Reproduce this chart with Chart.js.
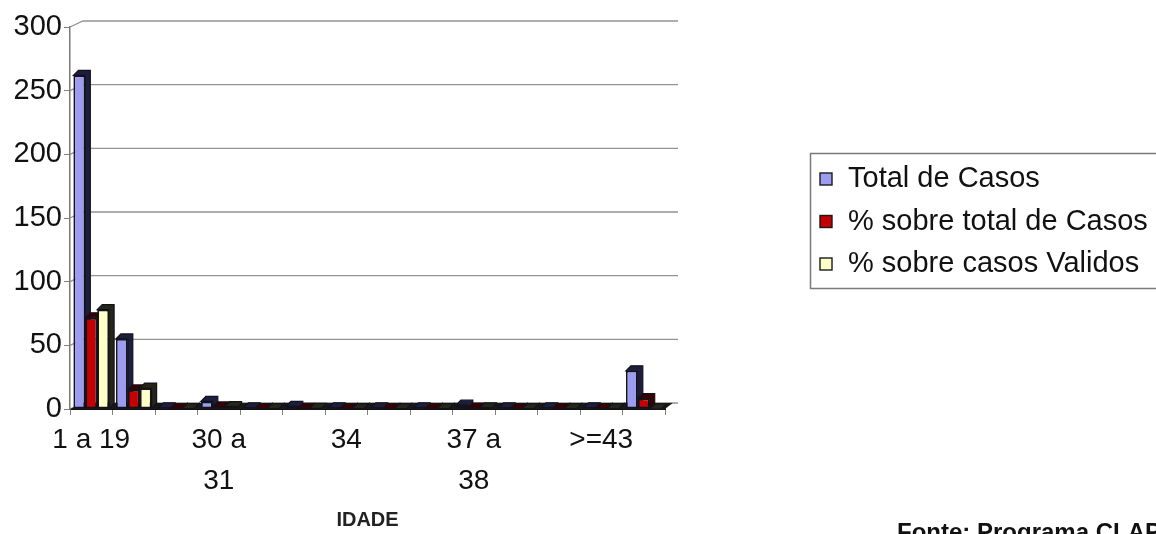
<!DOCTYPE html>
<html>
<head>
<meta charset="utf-8">
<title>IDADE</title>
<script src="https://cdn.jsdelivr.net/npm/chart.js@4.4.1/dist/chart.umd.min.js"></script>
<style>
  html, body { margin: 0; padding: 0; background: #ffffff; overflow: hidden; }
  #wrap { position: relative; width: 1156px; height: 534px; }
</style>
</head>
<body>
<div id="wrap"><canvas id="chart" width="1156" height="534"></canvas></div>
<script>
// Age groups and the three series per group
const categories = ['1 a 19', '20 a 24', '25 a 29', '30 a 31', '32', '33', '34', '35', '36', '37 a 38', '39 a 40', '41 a 42', '>=43', 'Ignorado'];
const totalCasos = [262, 55, 1, 6, 1, 2, 1, 1, 1, 3, 1, 1, 1, 30];
const pctTotal   = [71.6, 15.0, 0.3, 1.6, 0.3, 0.5, 0.3, 0.3, 0.3, 0.8, 0.3, 0.3, 0.3, 8.2];
const pctValidos = [78.0, 16.4, 0.3, 1.8, 0.3, 0.6, 0.3, 0.3, 0.3, 0.9, 0.3, 0.3, 0.3, 0];
const seriesNames = ['Total de Casos', '% sobre total de Casos', '% sobre casos Validos'];
const yMin = 0, yMax = 300, yStep = 50;
const labelEvery = 3;
const axisTitle = 'IDADE';
const sourceNote = 'Fonte: Programa CLAP';

// Styling
const FONT = '"Liberation Sans", Arial, sans-serif';
const faceColors = ['#9c9cf0', '#c40000', '#ffffc8'];
const sideColors = ['#1d1d3d', '#3a0000', '#262618'];
const EDGE = '#12121c';
const BAR_DX = 5, BAR_DY = 5;    // depth of each column
const WALL_DX = 13, WALL_DY = 6; // depth of the back wall

// Pseudo-3D: back wall, floor and column side/top faces
const depthPlugin = {
  id: 'depth',
  beforeDatasetsDraw(chart) {
    const { ctx, chartArea: a, scales: { y } } = chart;
    ctx.save();
    // back wall gridlines and side wall diagonals
    ctx.strokeStyle = '#939393';
    ctx.lineWidth = 1.3;
    y.ticks.forEach(t => {
      const py = y.getPixelForValue(t.value);
      ctx.beginPath();
      ctx.moveTo(a.left, py);
      ctx.lineTo(a.left + WALL_DX, py - WALL_DY);
      ctx.lineTo(a.right + WALL_DX, py - WALL_DY);
      ctx.stroke();
    });
    // floor
    ctx.fillStyle = '#181818';
    ctx.beginPath();
    ctx.moveTo(a.left, a.bottom);
    ctx.lineTo(a.right, a.bottom);
    ctx.lineTo(a.right + WALL_DX * 0.6, a.bottom - WALL_DY);
    ctx.lineTo(a.left + WALL_DX, a.bottom - WALL_DY);
    ctx.closePath();
    ctx.fill();
    // column depth faces, drawn behind the front faces
    chart.data.datasets.forEach((ds, di) => {
      const meta = chart.getDatasetMeta(di);
      meta.data.forEach(bar => {
        const { x, y: top, base, width } = bar.getProps(['x', 'y', 'base', 'width'], true);
        const l = x - width / 2, r = x + width / 2;
        ctx.fillStyle = sideColors[di];
        ctx.strokeStyle = EDGE;
        ctx.lineWidth = 1.2;
        ctx.beginPath();
        ctx.moveTo(l, top);
        ctx.lineTo(l + BAR_DX, top - BAR_DY);
        ctx.lineTo(r + BAR_DX, top - BAR_DY);
        ctx.lineTo(r + BAR_DX, base - BAR_DY);
        ctx.lineTo(r, base);
        ctx.lineTo(r, top);
        ctx.closePath();
        ctx.fill();
        ctx.stroke();
      });
    });
    ctx.restore();
  }
};

// Legend box on the right and the source note
const annotationsPlugin = {
  id: 'sideNotes',
  afterDraw(chart) {
    const { ctx } = chart;
    ctx.save();
    ctx.strokeStyle = '#7a7a7a';
    ctx.lineWidth = 1.5;
    ctx.strokeRect(810.5, 153.5, 420, 135);
    ctx.font = '29px ' + FONT;
    ctx.textBaseline = 'alphabetic';
    ctx.textAlign = 'left';
    chart.data.datasets.forEach((ds, i) => {
      const baseY = 187 + i * 42.5;
      ctx.fillStyle = ds.backgroundColor;
      ctx.fillRect(820, baseY - 14, 12, 12);
      ctx.strokeStyle = '#1a1a1a';
      ctx.lineWidth = 1.4;
      ctx.strokeRect(820, baseY - 14, 12, 12);
      ctx.fillStyle = '#111111';
      ctx.fillText(ds.label, 848, baseY);
    });
    ctx.font = 'bold 24px ' + FONT;
    ctx.fillStyle = '#111111';
    ctx.fillText(sourceNote, 897, 540);
    ctx.restore();
  }
};

const seriesValues = [totalCasos, pctTotal, pctValidos];

new Chart(document.getElementById('chart'), {
  type: 'bar',
  data: {
    labels: categories,
    datasets: seriesNames.map((name, i) => ({
      label: name,
      data: seriesValues[i],
      backgroundColor: faceColors[i],
      borderColor: EDGE,
      borderWidth: 1.8,
      borderSkipped: false,
      categoryPercentage: 0.84,
      barPercentage: 1.0
    }))
  },
  options: {
    responsive: false,
    animation: false,
    layout: { padding: { top: 27, right: 491, left: 0, bottom: 0 } },
    plugins: {
      legend: { display: false },
      tooltip: { enabled: false }
    },
    scales: {
      x: {
        offset: true,
        grid: { display: true, drawOnChartArea: false, drawTicks: true, tickLength: 6, color: '#8a7f74', offset: true },
        border: { display: true, color: '#111111', width: 2 },
        ticks: {
          autoSkip: false,
          maxRotation: 0,
          padding: 5,
          color: '#111111',
          font: { family: FONT, size: 28, lineHeight: 1.46 },
          callback(value, index) {
            if (index % labelEvery !== 0) return '';
            const text = categories[index];
            if (text.length <= 6) return text;
            const cut = text.lastIndexOf(' ');
            return [text.slice(0, cut), text.slice(cut + 1)];
          }
        },
        title: {
          display: true,
          text: axisTitle,
          color: '#222222',
          font: { family: FONT, size: 20, weight: 'bold' },
          padding: { top: 0, bottom: 2 }
        },
        afterFit(scale) { scale.height = 125; }
      },
      y: {
        min: yMin,
        max: yMax,
        ticks: {
          stepSize: yStep,
          padding: 2,
          color: '#111111',
          font: { family: FONT, size: 29 }
        },
        grid: { display: true, drawOnChartArea: false, drawTicks: true, tickLength: 6, color: '#808080' },
        border: { display: true, color: '#7a7a7a', width: 1.5 },
        afterFit(scale) { scale.width = 70; }
      }
    }
  },
  plugins: [depthPlugin, annotationsPlugin]
});
</script>
</body>
</html>
